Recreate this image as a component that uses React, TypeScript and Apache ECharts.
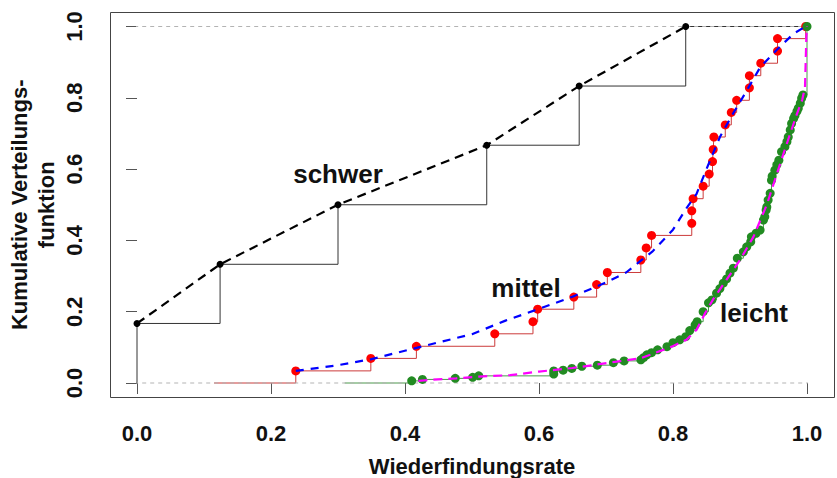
import React, { useEffect, useRef } from "react";
import * as echarts from "echarts";

// Empirical CDFs of the recovery rate for three difficulty levels
const schwerX = [0.0, 0.124, 0.3, 0.522, 0.66, 0.819];
const schwerY = [0.167, 0.333, 0.5, 0.667, 0.833, 1.0];

const mittelX = [
  0.237, 0.349, 0.417, 0.534, 0.591, 0.598, 0.652, 0.686, 0.702, 0.752,
  0.76, 0.768, 0.828, 0.828, 0.83, 0.845, 0.854, 0.859, 0.86, 0.861,
  0.878, 0.887, 0.895, 0.914, 0.914, 0.931, 0.956, 0.956, 0.998,
];
const mittelY = [
  0.034, 0.069, 0.103, 0.138, 0.172, 0.207, 0.241, 0.276, 0.31, 0.345,
  0.379, 0.414, 0.448, 0.483, 0.517, 0.552, 0.586, 0.621, 0.655, 0.69,
  0.724, 0.759, 0.793, 0.828, 0.862, 0.897, 0.931, 0.966, 1.0,
];

const leichtX = [
  0.41, 0.426, 0.475, 0.501, 0.51, 0.622, 0.622, 0.636, 0.649, 0.664,
  0.687, 0.711, 0.727, 0.752, 0.756, 0.761, 0.768, 0.777, 0.791, 0.8,
  0.81, 0.819, 0.825, 0.833, 0.836, 0.845, 0.853, 0.858, 0.865, 0.87,
  0.875, 0.88, 0.885, 0.89, 0.896, 0.905, 0.91, 0.916, 0.917, 0.924,
  0.93, 0.935, 0.937, 0.939, 0.94, 0.942, 0.945, 0.947, 0.948, 0.952,
  0.955, 0.958, 0.962, 0.967, 0.97, 0.972, 0.975, 0.977, 0.98, 0.982,
  0.985, 0.987, 0.99, 0.992, 0.994, 1.0,
];
const leichtY = [
  0.006, 0.01, 0.013, 0.016, 0.02, 0.025, 0.034, 0.036, 0.041, 0.047,
  0.05, 0.057, 0.062, 0.065, 0.071, 0.079, 0.085, 0.093, 0.102, 0.113,
  0.121, 0.13, 0.147, 0.163, 0.172, 0.2, 0.225, 0.233, 0.252, 0.265,
  0.28, 0.292, 0.308, 0.322, 0.35, 0.368, 0.382, 0.396, 0.41, 0.42,
  0.429, 0.457, 0.466, 0.485, 0.494, 0.513, 0.532, 0.569, 0.58, 0.597,
  0.612, 0.625, 0.649, 0.663, 0.677, 0.69, 0.71, 0.728, 0.742, 0.75,
  0.762, 0.771, 0.785, 0.799, 0.808, 1.0,
];

// Smooth fitted curves
const mittelFitX = [
  0.237, 0.3, 0.35, 0.42, 0.5, 0.55, 0.6, 0.65, 0.7, 0.73, 0.77, 0.8,
  0.82, 0.835, 0.85, 0.87, 0.89, 0.91, 0.93, 0.955, 0.98, 0.998,
];
const mittelFitY = [
  0.034, 0.05, 0.067, 0.1, 0.137, 0.175, 0.208, 0.242, 0.282, 0.31, 0.37,
  0.43, 0.49, 0.53, 0.6, 0.69, 0.757, 0.82, 0.885, 0.935, 0.98, 1.0,
];
const leichtFitX = [
  0.42, 0.44, 0.476, 0.51, 0.557, 0.6, 0.65, 0.68, 0.716, 0.751, 0.766,
  0.798, 0.82, 0.835, 0.848, 0.86, 0.88, 0.9, 0.92, 0.94, 0.96, 0.975,
  0.985, 0.993, 0.997, 0.998, 0.999, 1.0,
];
const leichtFitY = [
  0.006, 0.009, 0.013, 0.018, 0.022, 0.032, 0.042, 0.05, 0.06, 0.069,
  0.079, 0.102, 0.121, 0.149, 0.196, 0.235, 0.29, 0.345, 0.41, 0.5, 0.615,
  0.7, 0.755, 0.795, 0.83, 0.9, 0.97, 1.0,
];

// Where each step function starts and ends horizontally
const schwerRange = [-0.04, 1.0];
const mittelRange = [0.115, 1.02];
const leichtRange = [0.31, 1.02];

const axisTitleX = "Wiederfindungsrate";
const axisTitleY = "Kumulative Verteilungs-\nfunktion";
const groupLabels = ["schwer", "mittel", "leicht"];

const FONT = "'Liberation Sans', Arial, Helvetica, sans-serif";

const pairs = (xs: number[], ys: number[]) => xs.map((x, i) => [x, ys[i]]);
const stepData = (xs: number[], ys: number[], range: number[]) => [
  [range[0], 0],
  ...pairs(xs, ys),
  [range[1], ys[ys.length - 1]],
];

export default function App() {
  const ref = useRef<HTMLDivElement>(null);

  useEffect(() => {
    if (!ref.current) return;
    const chart = echarts.init(ref.current, null, { renderer: "svg" });

    const left = 137;
    const right = 807;
    const top = 26.5;
    const bottom = 383;
    const padX = (right - left) * 0.04;
    const padY = (bottom - top) * 0.04;

    const stepLine = (data: number[][], color: string, z: number) => ({
      type: "line",
      data,
      step: "end",
      showSymbol: false,
      symbol: "none",
      clip: false,
      lineStyle: { color, width: 1 },
      z,
      silent: true,
    });
    const dashLine = (data: number[][], color: string, dash: number[], z: number) => ({
      type: "line",
      data,
      showSymbol: false,
      symbol: "none",
      clip: false,
      lineStyle: { color, width: 2.2, type: dash },
      z,
      silent: true,
    });
    const dots = (data: number[][], color: string, size: number, z: number) => ({
      type: "scatter",
      data,
      symbol: "circle",
      symbolSize: size,
      clip: false,
      itemStyle: { color, opacity: 1 },
      z,
      silent: true,
    });
    const refLine = (y: number) => ({
      type: "line",
      data: [[-0.04, y], [1.04, y]],
      showSymbol: false,
      symbol: "none",
      clip: false,
      lineStyle: { color: "#b3b3b3", width: 1, type: [4, 4] },
      z: 2,
      silent: true,
    });

    chart.setOption({
      animation: false,
      backgroundColor: "#ffffff",
      grid: {
        left,
        right: 837 - right,
        top,
        bottom: 478 - bottom,
        outerBoundsMode: "none",
        containLabel: false,
      },
      xAxis: {
        type: "value",
        min: 0,
        max: 1,
        interval: 0.2,
        offset: padY,
        axisLine: { show: false },
        axisTick: { show: true, length: 11, lineStyle: { color: "#555", width: 1 } },
        splitLine: { show: false },
        axisLabel: {
          margin: 25,
          fontSize: 22,
          fontWeight: "bold",
          fontFamily: FONT,
          color: "#111",
          formatter: (v: number) => v.toFixed(1),
        },
        name: axisTitleX,
        nameLocation: "middle",
        nameGap: 58,
        nameMoveOverlap: false,
        nameTextStyle: { fontSize: 22, fontWeight: "bold", fontFamily: FONT, color: "#111" },
      },
      yAxis: {
        type: "value",
        min: 0,
        max: 1,
        interval: 0.2,
        offset: padX,
        axisLine: { show: false },
        axisTick: { show: true, length: 11, lineStyle: { color: "#555", width: 1 } },
        splitLine: { show: false },
        axisLabel: {
          margin: 25,
          rotate: 90,
          fontSize: 22,
          fontWeight: "bold",
          fontFamily: FONT,
          color: "#111",
          formatter: (v: number) => v.toFixed(1),
        },
        name: axisTitleY,
        nameLocation: "middle",
        nameRotate: 90,
        nameGap: 50,
        nameMoveOverlap: false,
        nameTextStyle: {
          fontSize: 22,
          fontWeight: "bold",
          fontFamily: FONT,
          color: "#111",
          lineHeight: 27,
          align: "center",
        },
      },
      graphic: [
        {
          type: "rect",
          shape: {
            x: Math.round(left - padX) + 0.5,
            y: Math.round(top - padY) + 0.5,
            width: Math.round(right - left + 2 * padX),
            height: Math.round(bottom - top + 2 * padY),
          },
          style: { fill: "none", stroke: "#444", lineWidth: 1 },
          silent: true,
          z: 0,
        },
        ...[
          { t: groupLabels[0], x: 338, y: 174 },
          { t: groupLabels[1], x: 526, y: 287.5 },
          { t: groupLabels[2], x: 754, y: 312.5 },
        ].map((l) => ({
          type: "text",
          x: l.x,
          y: l.y,
          z: 50,
          silent: true,
          style: {
            text: l.t,
            font: `bold 26px ${FONT}`,
            fill: "#111",
            textAlign: "center",
            textVerticalAlign: "middle",
            align: "center",
            verticalAlign: "middle",
          },
        })),
      ],
      series: [
        // step functions
        stepLine(stepData(schwerX, schwerY, schwerRange), "#333333", 1),
        stepLine(stepData(mittelX, mittelY, mittelRange), "#cc3b3b", 1),
        stepLine(stepData(leichtX, leichtY, leichtRange), "#4a9a4a", 1),
        // reference lines at 0 and 1
        refLine(0),
        refLine(1),
        // schwer
        dots(pairs(schwerX, schwerY), "#000000", 7, 3),
        dashLine(pairs(schwerX, schwerY), "#000000", [9, 6], 4),
        // mittel
        dots(pairs(mittelX, mittelY), "#ff0000", 9, 3),
        dashLine(pairs(mittelFitX, mittelFitY), "#0000ff", [8, 7], 4),
        // leicht
        dots(pairs(leichtX, leichtY), "#228b22", 9, 5),
        dashLine(pairs(leichtFitX, leichtFitY), "#ff00ff", [9, 6], 6),
      ],
    });

    return () => chart.dispose();
  }, []);

  return <div ref={ref} style={{ width: 837, height: 478, position: "absolute", left: 0, top: 0 }} />;
}
